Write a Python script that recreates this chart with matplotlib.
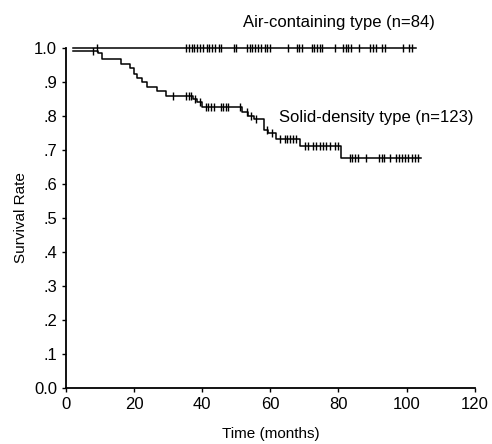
import matplotlib
matplotlib.use("Agg")
import matplotlib.pyplot as plt

plt.rcParams["font.family"] = ["Liberation Sans", "DejaVu Sans"]

# ── data ──────────────────────────────────────────────────────────────── #
# Air-containing type: no events, only censored cases
air_start = 2.0
air_end = 102.8
air_censor = [9.0, 35.2, 36.0, 37.0, 37.7, 38.5, 39.3, 40.3, 41.3, 42.0, 43.0,
              43.8, 44.8, 45.6, 49.3, 50.0, 53.1, 53.9, 54.7, 55.6, 56.5, 57.3,
              58.3, 59.0, 59.8, 65.2, 67.7, 68.4, 69.2, 72.1, 72.8, 73.6, 74.5,
              75.3, 78.9, 81.3, 82.1, 82.9, 83.7, 86.0, 89.1, 90.1, 90.9, 92.9,
              93.6, 98.9, 100.7, 101.7]

# Solid-density type: step times and survival after each drop
solid_t = [2.0, 9.5, 10.5, 16.1, 18.8, 19.9, 20.9, 22.2, 23.7, 26.6, 29.5,
           37.3, 38.5, 39.8, 51.6, 53.3, 55.2, 58.2, 59.3, 61.8, 68.8, 80.8]
solid_s = [0.992, 0.984, 0.968, 0.952, 0.940, 0.923, 0.911, 0.901, 0.885,
           0.872, 0.860, 0.850, 0.840, 0.825, 0.812, 0.800, 0.790, 0.760, 0.750,
           0.732, 0.712, 0.677]
solid_end = 104.3
solid_censor = [8.0, 31.4, 35.2, 36.0, 36.7, 37.8, 39.3, 41.1, 41.8, 42.6, 43.4,
                45.4, 46.1, 46.9, 47.7, 51.0, 53.0, 54.4, 55.9, 59.0, 60.6, 62.8,
                64.2, 65.0, 65.8, 66.7, 67.6, 70.1, 71.1, 72.5, 73.5, 74.5, 75.5,
                76.4, 77.4, 78.9, 79.8, 83.3, 84.1, 84.8, 85.7, 88.2, 91.9, 92.7,
                93.5, 95.2, 97.0, 97.7, 98.7, 99.5, 100.5, 101.5, 102.4, 103.4]

x_ticks = [0, 20, 40, 60, 80, 100, 120]
y_ticks = [0.0, 0.1, 0.2, 0.3, 0.4, 0.5, 0.6, 0.7, 0.8, 0.9, 1.0]
y_tick_labels = ["0.0", ".1", ".2", ".3", ".4", ".5", ".6", ".7", ".8", ".9", "1.0"]


def surv_at(t):
    val = solid_s[0]
    for ti, si in zip(solid_t, solid_s):
        if ti <= t:
            val = si
    return val


fig = plt.figure(figsize=(4.92, 4.44), dpi=100)
ax = fig.add_axes([0.134, 0.126, 0.831, 0.766])

lw = 1.1
# ── air-containing ─────────────────────────────────────────────────── #
ax.plot([air_start, air_end], [1.0, 1.0], color="black", lw=lw, clip_on=False)
ax.plot(air_censor, [1.0] * len(air_censor), ls="none", marker="|",
        ms=6, mew=1.0, color="black", clip_on=False)

# ── solid-density ──────────────────────────────────────────────────── #
ax.step(solid_t + [solid_end], solid_s + [solid_s[-1]], where="post",
        color="black", lw=lw)
ax.plot(solid_censor, [surv_at(t) for t in solid_censor],
        ls="none", marker="|", ms=6, mew=1.0, color="black")

ax.text(52, 1.075, "Air-containing type (n=84)", fontsize=12, va="center")
ax.text(62.5, 0.795, "Solid-density type (n=123)", fontsize=12, va="center")

ax.set_xlim(0, 120)
ax.set_ylim(0, 1.0)
ax.set_xticks(x_ticks)
ax.set_yticks(y_ticks)
ax.set_yticklabels(y_tick_labels)
ax.tick_params(labelsize=12, length=3, width=1, direction="out")
for side in ["top", "right"]:
    ax.spines[side].set_visible(False)
for side in ["left", "bottom"]:
    ax.spines[side].set_linewidth(1.3)

ax.set_xlabel("Time (months)", fontsize=11, labelpad=11)
ax.set_ylabel("Survival Rate", fontsize=11, labelpad=4)

plt.savefig("out.png", dpi=100)
